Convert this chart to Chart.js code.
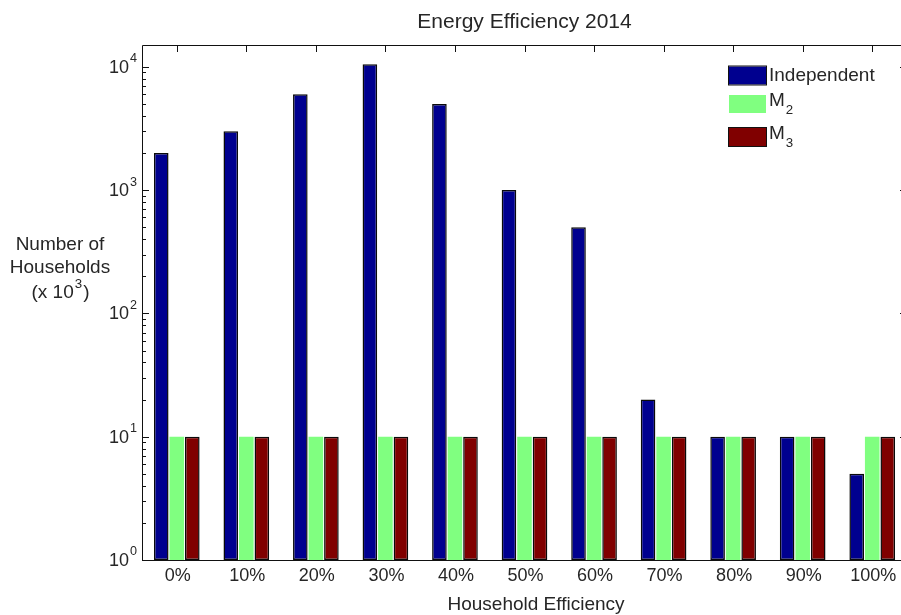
<!DOCTYPE html>
<html>
<head>
<meta charset="utf-8">
<script src="https://cdn.jsdelivr.net/npm/chart.js@4.4.1/dist/chart.umd.min.js"></script>
<style>
  html, body { margin: 0; padding: 0; background: #fff; overflow: hidden; }
  #wrap { width: 901px; height: 615px; overflow: hidden; position: relative; }
  canvas { display: block; }
</style>
</head>
<body>
<div id="wrap"><canvas id="c" width="910" height="615"></canvas></div>
<script>
// Household efficiency bins and household counts (thousands)
const categories = ['0%', '10%', '20%', '30%', '40%', '50%', '60%', '70%', '80%', '90%', '100%'];
const independent = [2000, 3000, 6000, 10500, 5000, 1000, 500, 20, 10, 10, 5];
const m2 = [10, 10, 10, 10, 10, 10, 10, 10, 10, 10, 10];
const m3 = [10, 10, 10, 10, 10, 10, 10, 10, 10, 10, 10];
const yTickExponents = [0, 1, 2, 3, 4];

const FONT = '"Liberation Sans", Arial, Helvetica, sans-serif';
const TEXT = '#262626';

function font(size) { return size + 'px ' + FONT; }

// Width of "base" plus its small script
function scriptedWidth(ctx, base, script, size) {
  ctx.font = font(size);
  const wb = ctx.measureText(base).width;
  ctx.font = font(size * 0.7);
  const ws = ctx.measureText(script).width;
  return { wb, ws, total: wb + ws + 1 };
}

// Draw "base" followed by a raised or lowered small script
function drawScripted(ctx, x, y, base, script, size, raise, align) {
  const m = scriptedWidth(ctx, base, script, size);
  let x0 = x;
  if (align === 'right') x0 = x - m.total;
  else if (align === 'center') x0 = x - m.total / 2;
  ctx.textAlign = 'left';
  ctx.textBaseline = 'middle';
  ctx.font = font(size);
  ctx.fillText(base, x0, y);
  ctx.font = font(size * 0.7);
  ctx.fillText(script, x0 + m.wb + 1, y + raise);
  return x0 + m.total;
}

const frame = {
  id: 'frame',
  beforeDatasetsDraw(chart) {
    const { ctx, chartArea: a, scales: { x, y } } = chart;
    ctx.save();
    ctx.strokeStyle = '#111';
    ctx.lineWidth = 1;
    ctx.beginPath();
    ctx.rect(Math.round(a.left) + 0.5, Math.round(a.top) + 0.5,
             Math.round(a.right - a.left), Math.round(a.bottom - a.top));
    ctx.stroke();

    // category ticks on top and bottom edges
    ctx.beginPath();
    categories.forEach((c, i) => {
      const px = Math.round(x.getPixelForValue(i)) + 0.5;
      ctx.moveTo(px, a.top); ctx.lineTo(px, a.top + 7);
      ctx.moveTo(px, a.bottom); ctx.lineTo(px, a.bottom - 7);
    });
    // log ticks on left and right edges
    for (let e = 0; e <= 4; e++) {
      for (let m = 1; m <= 9; m++) {
        const v = m * Math.pow(10, e);
        if (v > y.max) break;
        const py = Math.round(y.getPixelForValue(v)) + 0.5;
        const len = m === 1 ? 7 : 4;
        ctx.moveTo(a.left, py); ctx.lineTo(a.left + len, py);
        ctx.moveTo(a.right, py); ctx.lineTo(a.right - len, py);
      }
    }
    ctx.stroke();
    ctx.restore();
  },
  afterDraw(chart) {
    const { ctx, chartArea: a, scales: { x, y } } = chart;
    ctx.save();
    ctx.fillStyle = TEXT;

    // title
    ctx.font = font(21);
    ctx.textAlign = 'center';
    ctx.textBaseline = 'middle';
    ctx.fillText('Energy Efficiency 2014', (a.left + a.right) / 2, 22);

    // x tick labels
    ctx.font = font(18);
    categories.forEach((c, i) => {
      ctx.fillText(c, x.getPixelForValue(i) + 1, 576);
    });

    // x axis title
    ctx.font = font(19);
    ctx.fillText('Household Efficiency', 536, 605);

    // y tick labels with exponents
    yTickExponents.forEach(e => {
      const py = y.getPixelForValue(Math.pow(10, e));
      drawScripted(ctx, 137, py + 1, '10', String(e), 18, -9, 'right');
    });

    // y axis title
    ctx.font = font(19);
    ctx.textAlign = 'center';
    ctx.fillText('Number of', 60, 245);
    ctx.fillText('Households', 60, 268);
    ctx.font = font(19);
    const wp = ctx.measureText(')').width;
    const xEnd = drawScripted(ctx, 60 - wp / 2, 293, '(x 10', '3', 19, -9, 'center');
    ctx.font = font(19);
    ctx.textAlign = 'left';
    ctx.fillText(')', xEnd + 1, 293);

    // legend
    const items = [
      { color: chart.data.datasets[0].backgroundColor, base: 'Independent', sub: '', cy: 75.5, edge: true },
      { color: chart.data.datasets[1].backgroundColor, base: 'M', sub: '2', cy: 104, edge: false },
      { color: chart.data.datasets[2].backgroundColor, base: 'M', sub: '3', cy: 137, edge: true }
    ];
    items.forEach(it => {
      ctx.fillStyle = it.color;
      ctx.fillRect(729, it.cy - 9, 37, 18);
      if (it.edge) {
        ctx.strokeStyle = '#111';
        ctx.lineWidth = 1;
        ctx.strokeRect(728.5, it.cy - 9.5, 38, 19);
      }
      ctx.fillStyle = TEXT;
      if (it.sub) {
        drawScripted(ctx, 769, it.cy - 3, it.base, it.sub, 19, 9, 'left');
      } else {
        ctx.font = font(19);
        ctx.textAlign = 'left';
        ctx.textBaseline = 'middle';
        ctx.fillText(it.base, 769, it.cy);
      }
    });
    ctx.restore();
  }
};

new Chart(document.getElementById('c'), {
  type: 'bar',
  data: {
    labels: categories,
    datasets: [
      { label: 'Independent', data: independent, backgroundColor: '#00008f', borderColor: '#0a0a0a', borderWidth: 1.5, borderSkipped: false },
      { label: 'M2', data: m2, backgroundColor: '#80ff80', borderColor: '#80ff80', borderWidth: 0 },
      { label: 'M3', data: m3, backgroundColor: '#800000', borderColor: '#0a0a0a', borderWidth: 1.5, borderSkipped: false }
    ]
  },
  options: {
    responsive: false,
    animation: false,
    devicePixelRatio: 1,
    categoryPercentage: 0.67,
    barPercentage: 0.94,
    layout: { padding: { left: 142, top: 45, right: 3, bottom: 55 } },
    plugins: { legend: { display: false }, title: { display: false }, tooltip: { enabled: false } },
    scales: {
      x: { display: false, offset: true },
      y: { display: false, type: 'logarithmic', min: 1, max: Math.pow(10, 4.177) }
    }
  },
  plugins: [frame]
});
</script>
</body>
</html>
